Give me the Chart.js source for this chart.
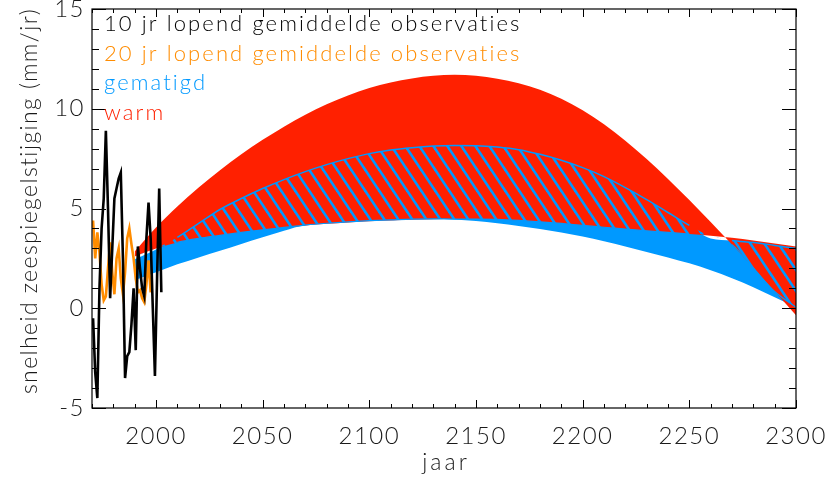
<!DOCTYPE html>
<html>
<head>
<meta charset="utf-8">
<script src="https://cdn.jsdelivr.net/npm/chart.js@4.4.1/dist/chart.umd.min.js"></script>
<style>
  html, body { margin: 0; padding: 0; background: #fff; }
</style>
</head>
<body>
<canvas id="chart" width="827" height="480"></canvas>
<script>
// scenario bands (mm/jr), one value per 10 years
const bandYears = [1990, 2000, 2010, 2020, 2030, 2040, 2050, 2060, 2070, 2080,
  2090, 2100, 2110, 2120, 2130, 2140, 2150, 2160, 2170, 2180,
  2190, 2200, 2210, 2220, 2230, 2240, 2250, 2260, 2270, 2280, 2290, 2300];
const warmHi = [2.85, 4.05, 5.1, 6.05, 6.92, 7.72, 8.44, 9.1, 9.7, 10.22,
  10.67, 11.04, 11.32, 11.52, 11.65, 11.7, 11.65, 11.5, 11.28, 10.95,
  10.5, 9.92, 9.22, 8.4, 7.48, 6.48, 5.42, 4.32, 3.19, 2.02, 0.84, -0.35];
const warmLo = [2.6, 3.0, 3.3, 3.5, 3.65, 3.8, 3.93, 4.05, 4.15, 4.23,
  4.3, 4.36, 4.4, 4.44, 4.46, 4.47, 4.47, 4.45, 4.4, 4.33,
  4.25, 4.15, 4.06, 3.97, 3.88, 3.8, 3.72, 3.63, 3.53, 3.4, 3.25, 3.1];
const gematigdHi = [2.45, 2.95, 3.55, 4.25, 4.95, 5.5, 6.0, 6.45, 6.85, 7.2,
  7.5, 7.75, 7.93, 8.05, 8.13, 8.16, 8.15, 8.08, 7.95, 7.72,
  7.42, 7.05, 6.6, 6.05, 5.45, 4.8, 4.15, 3.5, 3.4, 3.3, 3.15, 3.0];
const gematigdLo = [1.4, 1.8, 2.2, 2.55, 2.88, 3.22, 3.56, 3.88, 4.17, 4.26,
  4.33, 4.39, 4.43, 4.47, 4.48, 4.45, 4.37, 4.26, 4.12, 3.97,
  3.8, 3.6, 3.36, 3.1, 2.82, 2.55, 2.25, 1.9, 1.5, 1.05, 0.55, 0.05];

// observations, yearly values plotted at mid-year
const obsYears10 = [1970, 1971, 1972, 1973, 1974, 1975, 1976, 1977, 1978, 1979,
  1980, 1981, 1982, 1983, 1984, 1985, 1986, 1987, 1988, 1989,
  1990, 1991, 1992, 1993, 1994, 1995, 1996, 1997, 1998, 1999,
  2000, 2001, 2002];
const obs10 = [-0.5, -3.2, -4.5, 1.0, 4.0, 5.5, 8.9, 5.0, 0.5, 3.0,
  5.5, 6.0, 6.5, 6.8, 2.5, -3.5, -2.4, -2.2, -0.8, 1.0,
  -2.1, 3.1, 2.0, 1.0, 0.6, 3.5, 5.3, 3.5, 0.0, -3.4,
  1.5, 6.0, 0.8];
const obsYears20 = [1970, 1971, 1972, 1973, 1974, 1975, 1976, 1977, 1978, 1979,
  1980, 1981, 1982, 1983, 1984, 1985, 1986, 1987, 1988, 1989,
  1990, 1991, 1992, 1993, 1994, 1995, 1996, 1997];
const obs20 = [4.4, 2.5, 3.8, 2.8, 1.2, 0.4, 0.6, 2.0, 3.3, 1.8,
  0.7, 2.5, 3.0, 1.5, 0.7, 1.8, 3.5, 4.0, 3.2, 2.5,
  1.5, 0.8, 0.9, 0.5, 0.3, 1.2, 2.4, 0.8];

const xTicks = [2000, 2050, 2100, 2150, 2200, 2250, 2300];
const yTicks = [-5, 0, 5, 10, 15];
const xTitle = "jaar";
const yTitle = "snelheid zeespiegelstijging (mm/jr)";
const legendNames = ["10 jr lopend gemiddelde observaties", "20 jr lopend gemiddelde observaties", "gematigd", "warm"];

const BLUE = "#0099ff";
const RED = "#ff2000";
const ORANGE = "#ff8c00";
const BLACK = "#000000";
const TEXT = "#1a1a1a";
const legendColors = [BLACK, ORANGE, BLUE, RED];
const FONT = "Lato";

// overlap of both bands, gets the hatching
const hatchLo = bandYears.map((_, i) => Math.max(Math.min(warmHi[i], warmLo[i]), gematigdLo[i]));
const hatchHi = bandYears.map((_, i) => Math.max(hatchLo[i], Math.min(Math.max(warmHi[i], warmLo[i]), gematigdHi[i])));

const pts = (xs, ys, off) => xs.map((v, i) => ({ x: v + off, y: ys[i] }));

function makeHatch() {
  const w = 14, h = 21;
  const c = document.createElement("canvas");
  c.width = w; c.height = h;
  const g = c.getContext("2d");
  g.strokeStyle = BLUE;
  g.lineWidth = 2.6;
  for (let k = -2; k <= 2; k++) {
    g.beginPath();
    g.moveTo(k * w - w, -h);
    g.lineTo(k * w + 2 * w, 2 * h);
    g.stroke();
  }
  return g.createPattern(c, "repeat");
}

function band(data, order, fill, bg) {
  return {
    data, order, fill, backgroundColor: bg || "transparent",
    borderWidth: 0, borderColor: "transparent", pointRadius: 0,
    cubicInterpolationMode: "monotone",
  };
}

const hasOverlap = (i) => hatchHi[i] - hatchLo[i] > 0.02;
const hatchEdge = {
  borderColor: (ctx) => (hasOverlap(ctx.p0DataIndex) && hasOverlap(ctx.p1DataIndex) ? BLUE : "rgba(0,0,0,0)"),
};

const framePlugin = {
  id: "frame",
  beforeDraw(chart) {
    // wide spacing like the original plot font, kept for the tick labels
    chart.ctx.letterSpacing = "1.5px";
  },
  afterDatasetsDraw(chart) {
    const { ctx, chartArea: a, scales } = chart;
    const x = scales.x, y = scales.y;
    ctx.save();
    ctx.strokeStyle = "#000";
    ctx.lineWidth = 1.2;
    ctx.strokeRect(a.left, a.top, a.right - a.left, a.bottom - a.top);
    ctx.lineWidth = 1;
    ctx.beginPath();
    for (let v = 1970; v <= 2300; v += 10) {
      const len = v % 50 === 0 ? 8 : 4;
      const px = Math.round(x.getPixelForValue(v)) + 0.5;
      ctx.moveTo(px, a.bottom); ctx.lineTo(px, a.bottom - len);
      ctx.moveTo(px, a.top); ctx.lineTo(px, a.top + len);
    }
    for (let v = -5; v <= 15; v += 1) {
      const len = v % 5 === 0 ? 14 : 7;
      const py = Math.round(y.getPixelForValue(v)) + 0.5;
      ctx.moveTo(a.left, py); ctx.lineTo(a.left + len, py);
      ctx.moveTo(a.right, py); ctx.lineTo(a.right - len, py);
    }
    ctx.stroke();
    ctx.restore();
  },
  afterDraw(chart) {
    const { ctx, chartArea: a } = chart;
    ctx.save();
    ctx.font = "300 22px '" + FONT + "'";
    ctx.letterSpacing = "2.1px";
    ctx.textBaseline = "alphabetic";
    legendNames.forEach((t, i) => {
      ctx.fillStyle = legendColors[i];
      ctx.fillText(t, a.left + 12, 31 + i * 29.7);
    });
    // axis titles
    ctx.fillStyle = TEXT;
    ctx.textAlign = "center";
    ctx.font = "300 23px '" + FONT + "'";
    ctx.letterSpacing = "3px";
    ctx.fillText(xTitle, (a.left + a.right) / 2 + 2, 470);
    ctx.letterSpacing = "1.4px";
    ctx.translate(37, 201);
    ctx.rotate(-Math.PI / 2);
    ctx.fillText(yTitle, 0, 0);
    ctx.restore();
  },
};

new Chart(document.getElementById("chart"), {
  type: "line",
  data: {
    datasets: [
      band(pts(bandYears, gematigdLo, 0), 10, false),
      band(pts(bandYears, gematigdHi, 0), 10, { target: 0 }, BLUE),
      band(pts(bandYears, warmLo, 0), 9, false),
      band(pts(bandYears, warmHi, 0), 9, { target: 2 }, RED),
      Object.assign(band(pts(bandYears, hatchLo, 0), 8, false), { borderWidth: 1.2, segment: hatchEdge }),
      Object.assign(band(pts(bandYears, hatchHi, 0), 8, { target: 4 }, makeHatch()), { borderWidth: 1.5, segment: hatchEdge }),
      {
        data: pts(obsYears20, obs20, 0.5), order: 2, borderColor: ORANGE,
        borderWidth: 2.6, pointRadius: 0, fill: false, tension: 0,
      },
      {
        data: pts(obsYears10, obs10, 0.5), order: 1, borderColor: BLACK,
        borderWidth: 2.6, pointRadius: 0, fill: false, tension: 0,
      },
    ],
  },
  options: {
    responsive: false,
    animation: false,
    devicePixelRatio: 1,
    layout: { padding: { left: 0, top: 9, right: 31, bottom: 0 } },
    plugins: { legend: { display: false }, tooltip: { enabled: false } },
    scales: {
      x: {
        type: "linear", min: 1970, max: 2300,
        afterFit: (s) => { s.height = 72; s.paddingLeft = 0; s.paddingRight = 0; },
        afterBuildTicks: (s) => { s.ticks = xTicks.map((v) => ({ value: v })); },
        grid: { display: false, drawTicks: false },
        border: { display: false },
        ticks: { padding: 14, color: TEXT, font: { family: FONT, size: 24, weight: 300 }, maxRotation: 0, autoSkip: false, callback: (v) => String(v) },
      },
      y: {
        type: "linear", min: -5, max: 15,
        afterFit: (s) => { s.width = 92; s.paddingTop = 0; s.paddingBottom = 0; },
        afterBuildTicks: (s) => { s.ticks = yTicks.map((v) => ({ value: v })); },
        grid: { display: false, drawTicks: false },
        border: { display: false },
        ticks: { padding: 7, color: TEXT, font: { family: FONT, size: 24, weight: 300 }, callback: (v) => String(v) },
      },
    },
  },
  plugins: [framePlugin],
});
</script>
</body>
</html>
